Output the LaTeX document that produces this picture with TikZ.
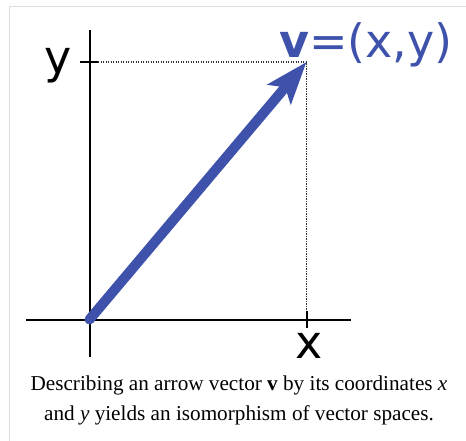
\documentclass[tikz,border=0pt]{standalone}
\usepackage{fontspec}
\setmainfont{Liberation Serif}
\newfontfamily\dejavu{DejaVu Sans}
\usetikzlibrary{arrows.meta}
\definecolor{vecblue}{RGB}{62,82,172}
\definecolor{framegray}{RGB}{221,221,221}
\definecolor{dotgray}{RGB}{50,50,50}
\tikzset{
  axisline/.style={line width=2pt, black},
  guide/.style={line width=1.2pt, dotgray, dash pattern=on 1.3pt off 1.2pt},
  lbl/.style={inner sep=0pt, font=\dejavu\fontsize{46}{46}\selectfont},
  captext/.style={inner sep=0pt, font=\fontsize{21.2}{24}\selectfont},
}
\begin{document}
\begin{tikzpicture}[x=1pt,y=-1pt]
\useasboundingbox (0,0) rectangle (466,441);
\fill[white] (0,0) rectangle (466,441);
% frame
\draw[framegray, line width=1.5pt] (9.5,441) -- (9.5,6.5) -- (466,6.5);
% coordinates
\coordinate (O) at (89.5,319.5);
\coordinate (ytop) at (89.5,30);
\coordinate (ybot) at (89.5,357);
\coordinate (xl) at (26,319.5);
\coordinate (xr) at (351,319.5);
\coordinate (P) at (306.5,62);
\coordinate (ytickL) at (80,62);
\coordinate (ytickR) at (98,62);
\coordinate (xtickT) at (306.5,311);
\coordinate (xtickB) at (306.5,328);
% guides
\draw[guide] (ytickR) -- (P) -- (xtickT);
% axes
\draw[axisline] (ybot) -- (ytop);
\draw[axisline] (xl) -- (xr);
\draw[axisline] (ytickL) -- (ytickR);
\draw[axisline] (xtickT) -- (xtickB);
% vector
\draw[vecblue, line width=10pt, line cap=round,
  -{Stealth[length=42pt, width=30pt, inset=9pt]}] (O) -- (P);
% labels
\node[lbl, anchor=base] (ylab) at (58.5,74) {y};
\node[lbl, anchor=base] (xlab) at (309,358) {x};
\node[lbl, anchor=base west, text=vecblue] (vlab) at (279,58) {\textbf{v}=(x,y)};
% caption
\node[captext, anchor=base] (cap1) at (239,390) {Describing an arrow vector \textbf{v} by its coordinates \textit{x}};
\node[captext, anchor=base] (cap2) at (239,420) {and \textit{y} yields an isomorphism of vector spaces.};
\end{tikzpicture}
\end{document}
